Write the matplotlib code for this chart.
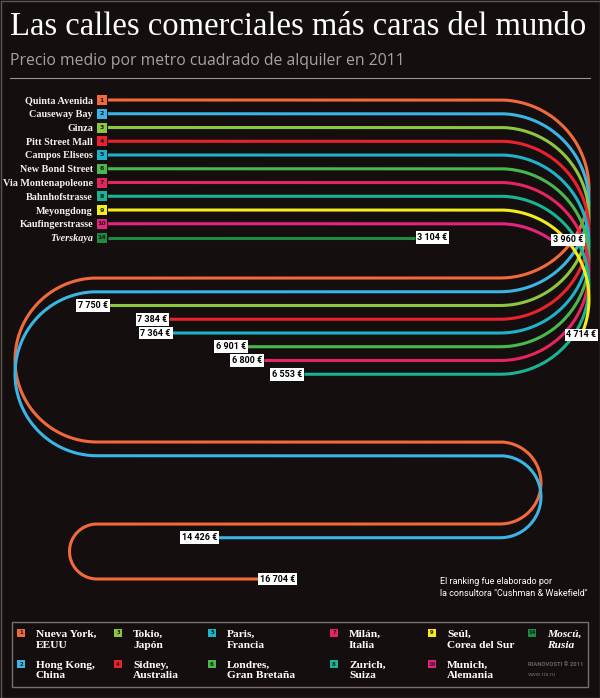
import numpy as np
import matplotlib.pyplot as plt
import matplotlib.font_manager as fm
from matplotlib.patches import Rectangle

# data, rank order (top lane first)
streets = ["Quinta Avenida", "Causeway Bay", "Ginza", "Pitt Street Mall", "Campos Eliseos",
           "New Bond Street", "Via Montenapoleone", "Bahnhofstrasse", "Meyongdong",
           "Kaufingerstrasse", "Tverskaya"]
ranks = [1, 2, 3, 4, 5, 6, 7, 8, 9, 10, 14]
prices = [16704, 14426, 7750, 7384, 7364, 6901, 6800, 6553, 4714, 3960, 3104]
cities = ["Nueva York,\nEEUU", "Hong Kong,\nChina", "Tokio,\nJapón", "Sidney,\nAustralia",
          "Paris,\nFrancia", "Londres,\nGran Bretaña", "Milán,\nItalia", "Zurich,\nSuiza",
          "Seúl,\nCorea del Sur", "Munich,\nAlemania", "Moscú,\nRusia"]
colors = ["#f06a3c", "#3bb4e6", "#8dc63f", "#e8232f", "#1fb3c9", "#4bb84b",
          "#e5255d", "#1ab394", "#f5ec1b", "#e6247d", "#1e8b45"]

BG = "#140f0e"
installed = {f.name for f in fm.fontManager.ttflist}
SERIF = "Liberation Serif"
NARROW = "Liberation Sans Narrow" if "Liberation Sans Narrow" in installed else "Roboto"

# track layout (pixels) and price scale along the track
X_START, X_RIGHT, X_LEFT = 108, 500, 97
Y_TOP = 100
LANE = 13.75
RADII = [89, 82, 41, 27.5]
PX_PER_EUR = 0.1623
EUR_AT_START = 1210


def build_track(step=0.5):
    n = int((X_RIGHT - X_START) / step)
    pts = [np.column_stack([np.linspace(X_START, X_RIGHT, n), np.full(n, Y_TOP)])]
    y = Y_TOP
    for j, r in enumerate(RADII):
        t = np.linspace(0, np.pi, int(np.pi * r / step))
        if j % 2 == 0:
            xs = X_RIGHT + r * np.sin(t)
            a, b = X_RIGHT, X_LEFT
        else:
            xs = X_LEFT - r * np.sin(t)
            a, b = X_LEFT, X_RIGHT
        pts.append(np.column_stack([xs, y + r - r * np.cos(t)]))
        y += 2 * r
        n = int(abs(b - a) / step)
        pts.append(np.column_stack([np.linspace(a, b, n), np.full(n, y)]))
    P = np.vstack(pts)
    d = np.concatenate([[0], np.cumsum(np.hypot(*np.diff(P, axis=0).T))])
    return P, d


fig = plt.figure(figsize=(6, 6.98), dpi=100, facecolor=BG)
ax = fig.add_axes([0, 0, 1, 1])
ax.set_xlim(0, 600)
ax.set_ylim(698, 0)
ax.axis("off")
ax.set_facecolor(BG)

ax.add_patch(Rectangle((0.5, 0.5), 599, 697, fill=False, ec="#5e5755", lw=1))

ax.text(10, 35, "Las calles comerciales más caras del mundo", family=SERIF,
        fontsize=23.5, color="white", va="baseline")
ax.text(10, 65, "Precio medio por metro cuadrado de alquiler en 2011", family="Open Sans",
        fontsize=11.3, color="#a8a19e", va="baseline")
ax.plot([10, 590], [78, 78], color="#9a9390", lw=0.8)

P, d = build_track()
for i in range(len(streets)):
    y = Y_TOP + i * LANE
    dist = (prices[i] - EUR_AT_START) * PX_PER_EUR
    k = np.searchsorted(d, dist)
    frac = (dist - d[k - 1]) / (d[k] - d[k - 1])
    end = P[k - 1] + frac * (P[k] - P[k - 1])
    path = np.vstack([P[:k], end])
    ax.plot(path[:, 0], path[:, 1] + i * LANE, color=colors[i], lw=2.2,
            solid_capstyle="butt", zorder=3)

    tx, ty = P[k] - P[k - 1]
    tx = tx / np.hypot(tx, ty)
    ex, ey = end[0], end[1] + i * LANE
    label = f"{prices[i]:,}".replace(",", " ") + " €"
    if tx > 0.7:
        ax.text(ex + 2, ey, label, ha="left", va="center", fontsize=6.5, weight="bold",
                family=NARROW, color="black", zorder=5,
                bbox=dict(boxstyle="square,pad=0.2", fc="white", ec="none"))
    elif tx < -0.7:
        ax.text(ex - 2, ey, label, ha="right", va="center", fontsize=6.5, weight="bold",
                family=NARROW, color="black", zorder=5,
                bbox=dict(boxstyle="square,pad=0.2", fc="white", ec="none"))
    else:
        ax.text(ex, ey, label, ha="center", va="center", fontsize=6.5, weight="bold",
                family=NARROW, color="black", zorder=5,
                bbox=dict(boxstyle="square,pad=0.2", fc="white", ec="none"))

    # badge and street name
    ax.add_patch(Rectangle((97, y - 5), 10, 10, fc=colors[i], ec="none", zorder=4))
    ax.text(102, y, str(ranks[i]), ha="center", va="center", fontsize=4.5, weight="bold",
            color="#1a1a1a", zorder=5)
    ax.text(93, y, streets[i], ha="right", va="center_baseline", family=SERIF, fontsize=7.3,
            weight="bold", color="#f4f0ee",
            style="italic" if ranks[i] == 14 else "normal")

ax.text(440, 582, "El ranking fue elaborado por", family=NARROW, fontsize=6.5,
        color="white", va="center")
ax.text(440, 593, 'la consultora "Cushman & Wakefield"', family=NARROW, fontsize=6.5,
        color="white", va="center")

# legend
ax.add_patch(Rectangle((12, 622), 576, 65, fill=False, ec="#77706d", lw=1))
col_x = [17, 114, 208, 330, 428, 528]
row_y = [633, 664]
for i in range(len(cities)):
    bx = col_x[i // 2]
    ry = row_y[i % 2]
    ax.add_patch(Rectangle((bx, ry - 4), 8, 8, fc=colors[i], ec="none"))
    ax.text(bx + 4, ry, str(ranks[i]), ha="center", va="center", fontsize=3.8,
            weight="bold", color="#1a1a1a")
    for j, line in enumerate(cities[i].split("\n")):
        ax.text(bx + 19, ry + 11 * j, line, va="center_baseline", family=SERIF, fontsize=8.2,
                weight="bold", color="white",
                style="italic" if ranks[i] == 14 else "normal")

ax.text(528, 665, "RIANOVOSTI © 2011", family=NARROW, fontsize=4.2, weight="bold",
        color="#6b6461", va="center")
ax.text(528, 674, "www.ria.ru", family=NARROW, fontsize=4.2, color="#6b6461", va="center")

fig.savefig("out.png", dpi=100, facecolor=BG)
